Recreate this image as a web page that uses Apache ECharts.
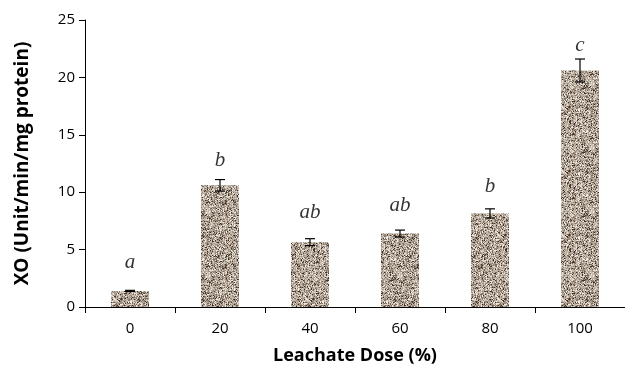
<!DOCTYPE html>
<html><head><meta charset="utf-8">
<script src="https://cdn.jsdelivr.net/npm/echarts@6/dist/echarts.min.js"></script>
<style>html,body{margin:0;padding:0;background:#fff}#c{width:625px;height:374px}</style>
</head><body><div id="c"></div>
<script>
const categories = ['0', '20', '40', '60', '80', '100'];
const values = [1.4, 10.6, 5.65, 6.4, 8.15, 20.6];
const errors = [0.05, 0.5, 0.3, 0.3, 0.4, 1.0];
const letters = ['a', 'b', 'ab', 'ab', 'b', 'c'];
const letterY = [3.9, 12.8, 8.2, 8.8, 10.5, 22.8];
const yTicks = [0, 5, 10, 15, 20, 25];

// granite-like texture (deterministic)
function makeTexture() {
  const cv = document.createElement('canvas');
  cv.width = 64; cv.height = 64;
  const ctx = cv.getContext('2d');
  let s = 98765;
  const rnd = () => { s = (s * 1103515245 + 12345) & 0x7fffffff; return s / 0x7fffffff; };
  ctx.fillStyle = '#ab9f92';
  ctx.fillRect(0, 0, 64, 64);
  for (let y = 0; y < 64; y++) {
    for (let x = 0; x < 64; x++) {
      const r = rnd();
      let c = null;
      if (r < 0.08) c = '#3f3228';
      else if (r < 0.22) c = '#7a6a5c';
      else if (r < 0.45) c = '#9a8c7e';
      else if (r < 0.72) c = '#bdb1a4';
      else if (r < 0.88) c = '#d3c9bd';
      else c = '#efe9e1';
      ctx.fillStyle = c;
      ctx.fillRect(x, y, 1, 1);
    }
  }
  return cv;
}
const tex = makeTexture();

const chart = echarts.init(document.getElementById('c'));
chart.setOption({
  animation: false,
  grid: { left: 85, right: -4, top: 20, bottom: 67 },
  xAxis: {
    type: 'category', data: categories,
    name: 'Leachate Dose (%)', nameLocation: 'middle', nameGap: 40,
    nameTextStyle: { fontFamily: 'Open Sans', fontWeight: 'bold', fontSize: 18, color: '#000' },
    axisLine: { lineStyle: { color: '#000', width: 1 } },
    axisTick: { show: true, length: 6, alignWithLabel: false, lineStyle: { color: '#000' } },
    axisLabel: { fontFamily: 'Open Sans', fontSize: 15, color: '#000', margin: 14 }
  },
  yAxis: {
    type: 'value', min: 0, max: 25, interval: 5,
    name: 'XO (Unit/min/mg protein)', nameLocation: 'middle', nameGap: 53,
    nameTextStyle: { fontFamily: 'Open Sans', fontWeight: 'bold', fontSize: 19, color: '#000' },
    axisLine: { show: true, lineStyle: { color: '#000', width: 1 } },
    axisTick: { show: true, length: 6, lineStyle: { color: '#000' } },
    splitLine: { show: false },
    axisLabel: { fontFamily: 'Open Sans', fontSize: 15, color: '#000', margin: 10 }
  },
  series: [
    {
      type: 'bar', data: values, barWidth: 38,
      itemStyle: { color: { image: tex, repeat: 'repeat' } }
    },
    {
      type: 'custom',
      data: values.map((v, i) => [i, v, errors[i]]),
      renderItem: function (params, api) {
        const i = api.value(0), v = api.value(1), e = api.value(2);
        const top = api.coord([i, v + e]);
        const bot = api.coord([i, v - e]);
        const hw = 5;
        const st = { stroke: '#000', lineWidth: 1.2 };
        return {
          type: 'group', children: [
            { type: 'line', shape: { x1: top[0], y1: top[1], x2: bot[0], y2: bot[1] }, style: st },
            { type: 'line', shape: { x1: top[0] - hw, y1: top[1], x2: top[0] + hw, y2: top[1] }, style: st },
            { type: 'line', shape: { x1: bot[0] - hw, y1: bot[1], x2: bot[0] + hw, y2: bot[1] }, style: st }
          ]
        };
      },
      z: 5
    },
    {
      type: 'scatter', symbolSize: 0,
      data: letterY.map((y, i) => [i, y, letters[i]]),
      label: {
        show: true, position: 'inside',
        formatter: p => p.value[2],
        fontFamily: 'Liberation Serif', fontStyle: 'italic', fontSize: 21, color: '#000'
      },
      z: 6
    }
  ]
});
</script>
</body></html>
